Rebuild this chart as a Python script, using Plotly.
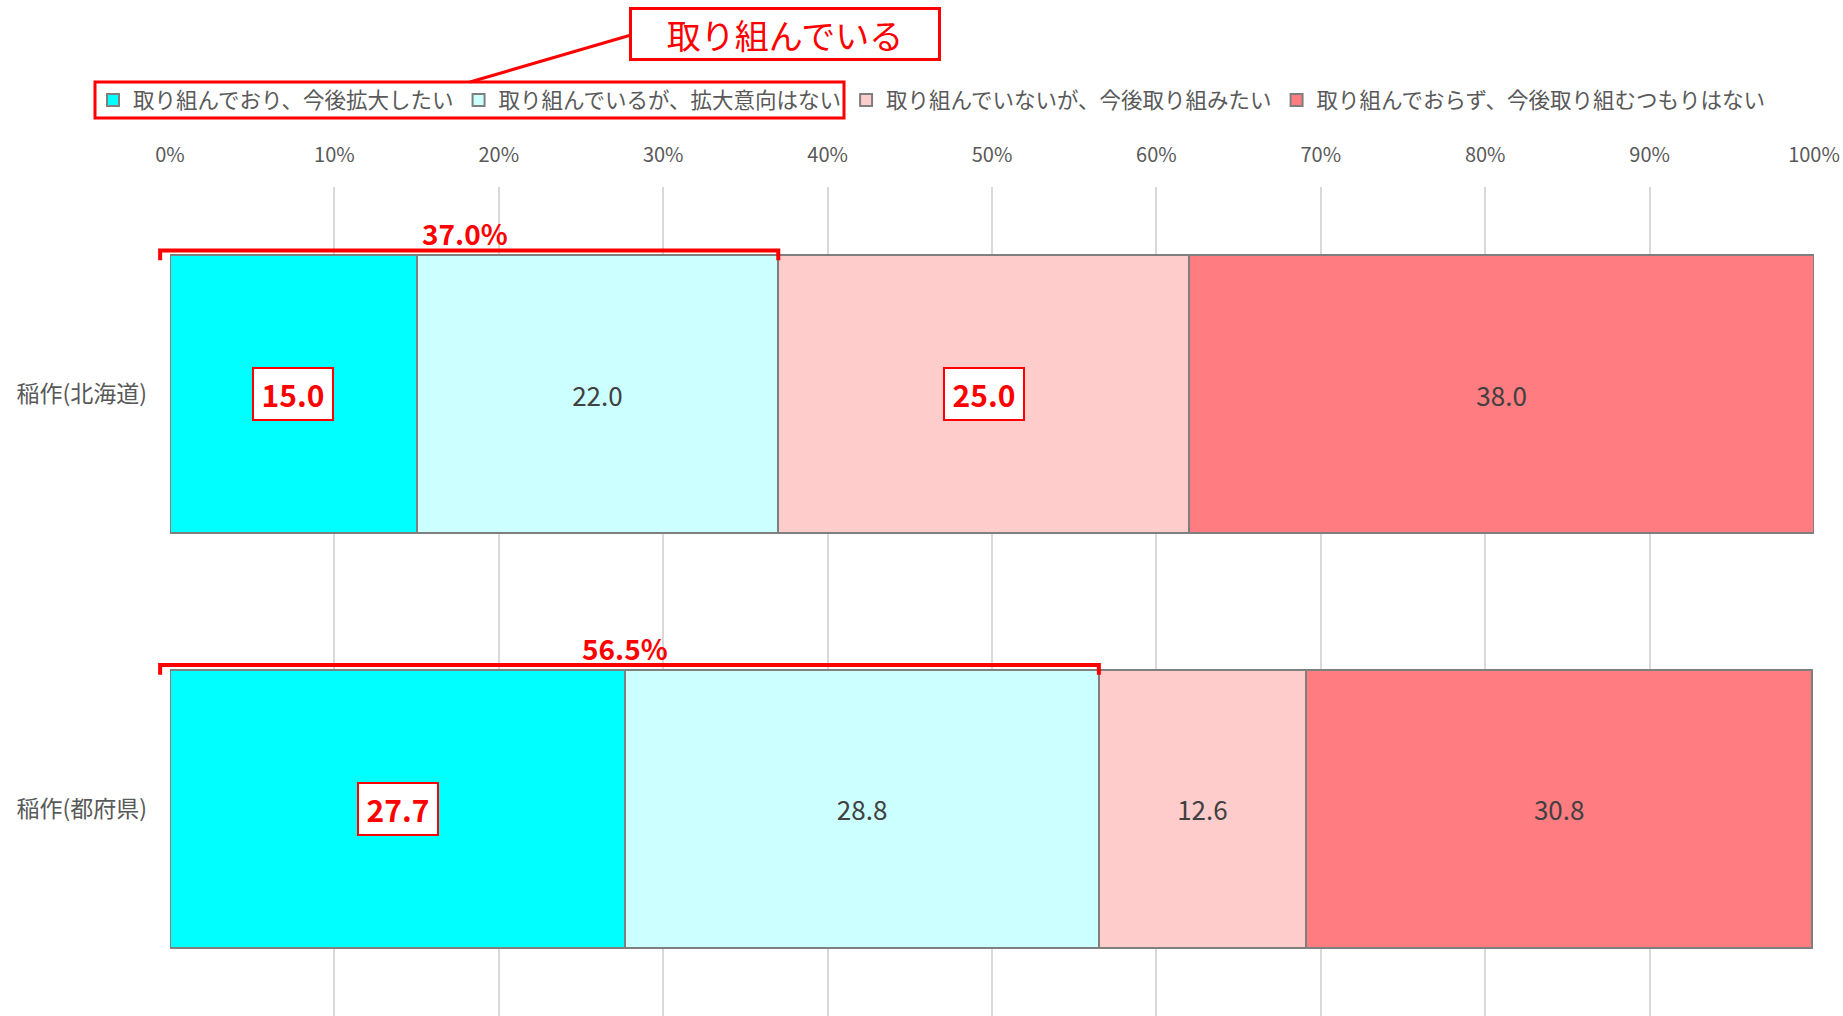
import plotly.graph_objects as go

categories = ["稲作(北海道)", "稲作(都府県)"]
series_names = [
    "取り組んでおり、今後拡大したい",
    "取り組んでいるが、拡大意向はない",
    "取り組んでいないが、今後取り組みたい",
    "取り組んでおらず、今後取り組むつもりはない",
]
values_s1 = [15.0, 27.7]
values_s2 = [22.0, 28.8]
values_s3 = [25.0, 12.6]
values_s4 = [38.0, 30.8]
colors = ["#00FFFF", "#CCFFFF", "#FFCCCC", "#FF7C80"]
# which data labels are highlighted (red boxed)
highlight_s1 = [True, True]
highlight_s2 = [False, False]
highlight_s3 = [True, False]
highlight_s4 = [False, False]
engaged_totals = ["37.0%", "56.5%"]
callout_text = "取り組んでいる"
x_ticks = [0, 10, 20, 30, 40, 50, 60, 70, 80, 90, 100]

FONT = "Noto Sans CJK JP"
all_vals = [values_s1, values_s2, values_s3, values_s4]
all_hl = [highlight_s1, highlight_s2, highlight_s3, highlight_s4]
BAR_W = 0.67

# body margin is removed by post_script, so figure coords == page coords
W, H = 1843, 1016
L, R, T, B = 170, 1843 - 1814, 187, 0
pw, ph = W - L - R, H - T - B
def px(x):
    return (x - L) / pw
def py(y):
    return (H - B - y) / ph

fig = go.Figure()
annotations = []
for i, (name, vals, hl, col) in enumerate(zip(series_names, all_vals, all_hl, colors)):
    texts = ["" if h else f"{v:.1f}" for v, h in zip(vals, hl)]
    fig.add_trace(go.Bar(
        y=categories, x=vals, name=name, orientation="h",
        marker=dict(color=col, line=dict(color="#7F7F7F", width=2)),
        text=texts, textposition="inside", insidetextanchor="middle",
        textfont=dict(family=FONT, size=26, color="#404040"),
        constraintext="none", width=BAR_W,
    ))
    for j, (v, h) in enumerate(zip(vals, hl)):
        if h:
            base = sum(all_vals[k][j] for k in range(i))
            annotations.append(dict(
                x=base + v / 2, y=j, xref="x", yref="y",
                text=f"<b>{v:.1f}</b>", showarrow=False,
                font=dict(family=FONT, size=30, color="#FF0000"),
                bgcolor="#FFFFFF", bordercolor="#FF0000", borderwidth=2,
                borderpad=3, width=72,
            ))

shapes = []
bar_half = BAR_W / 2
for j, tot in enumerate(engaged_totals):
    end = all_vals[0][j] + all_vals[1][j]
    ytop = j - bar_half - 0.012
    yend = j - bar_half + 0.012
    x0 = -0.6
    # axis range [0,100] maps onto paper [0,1]
    shapes.append(dict(
        type="path", xref="paper", yref="y",
        path=f"M {x0/100},{yend} L {x0/100},{ytop} L {end/100},{ytop} L {end/100},{yend}",
        line=dict(color="#FF0000", width=4),
    ))
    annotations.append(dict(
        x=(x0 + end) / 2 - 0.25, y=ytop, xref="x", yref="y", yanchor="bottom",
        text=f"<b>{tot}</b>", showarrow=False,
        font=dict(family=FONT, size=28, color="#FF0000"), yshift=-5,
    ))

# red box around first two legend items
shapes.append(dict(type="rect", xref="paper", yref="paper",
                   x0=px(95), x1=px(844), y0=py(118), y1=py(82),
                   line=dict(color="#FF0000", width=3), fillcolor="rgba(0,0,0,0)"))
# connector line
shapes.append(dict(type="line", xref="paper", yref="paper",
                   x0=px(470), y0=py(82), x1=px(631), y1=py(35),
                   line=dict(color="#FF0000", width=3)))
# callout
annotations.append(dict(
    x=px(785), y=py(34), xref="paper", yref="paper",
    xanchor="center", yanchor="middle", showarrow=False,
    text=callout_text, font=dict(family=FONT, size=34, color="#FF0000"),
    bgcolor="#FFFFFF", bordercolor="#FF0000", borderwidth=3,
    borderpad=2, width=302, height=44,
))

fig.update_layout(
    barmode="stack",
    width=W, height=H,
    margin=dict(l=L, r=R, t=T, b=B, pad=0),
    paper_bgcolor="#FFFFFF", plot_bgcolor="#FFFFFF",
    font=dict(family=FONT, color="#595959"),
    bargap=1 - BAR_W,
    showlegend=True,
    legend=dict(
        orientation="h", xref="paper", yref="paper",
        x=px(93), y=py(100), xanchor="left", yanchor="middle",
        font=dict(family=FONT, size=21.5, color="#595959"),
        itemwidth=30, traceorder="normal", itemclick=False,
        bgcolor="rgba(0,0,0,0)",
    ),
    xaxis=dict(
        side="top", range=[0, 100], tickvals=x_ticks,
        ticktext=[f"{t}%" for t in x_ticks],
        showgrid=True, gridcolor="#D9D9D9", gridwidth=2,
        zeroline=False, showline=False, ticks="",
        tickfont=dict(family=FONT, size=20, color="#595959"),
        ticklabelstandoff=20, fixedrange=True,
    ),
    yaxis=dict(
        autorange="reversed", showgrid=False, zeroline=False, showline=False,
        ticks="", tickfont=dict(family=FONT, size=23, color="#595959"),
        ticklabelstandoff=22, fixedrange=True,
    ),
    shapes=shapes,
    annotations=annotations,
)

fig.write_html(
    "out.html",
    config={"displayModeBar": False},
    post_script="document.body.style.margin='0';document.body.style.overflow='hidden';",
)
